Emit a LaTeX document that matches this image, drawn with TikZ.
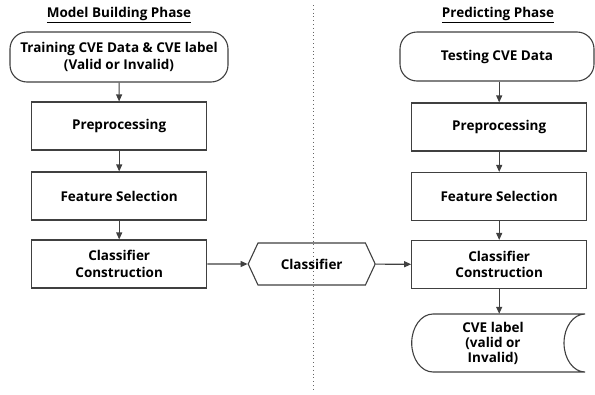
\documentclass[tikz,border=0pt]{standalone}
\usepackage{fontspec}
\setmainfont{Open Sans}
\usetikzlibrary{arrows.meta,shapes.symbols}
\definecolor{ln}{HTML}{404040}
\begin{document}
\begin{tikzpicture}[x=1pt,y=-1pt,
  every node/.style={font=\fontsize{13.5}{16.5}\selectfont\bfseries, text=black, align=center, inner sep=0pt},
  proc/.style={draw=ln, line width=1.1pt, minimum width=175pt, minimum height=48pt},
  term/.style={draw=ln, line width=1.1pt, rounded corners=17pt, minimum height=50pt},
  hexa/.style={draw=ln, line width=1.1pt, signal, signal to=east and west, signal pointer angle=130, minimum width=127pt, minimum height=42pt},
  outl/.style={draw=ln, line width=1.1pt},
  arr/.style={draw=ln, line width=1.1pt, -{Triangle[length=7pt,width=6pt]}},
  sep/.style={draw=ln!80, line width=1pt, dash pattern=on 1pt off 2.8pt}
]
\useasboundingbox (0,0) rectangle (595,394);
\fill[white] (0,0) rectangle (595,394);

\coordinate (dtop) at (313,5);
\coordinate (dbot) at (313,392);
\draw[sep] (dtop) -- (dbot);

\node (t1) at (119,15) {\underline{Model Building Phase}};
\node (t2) at (498,15) {\underline{Predicting Phase}};

\node[term, minimum width=218pt] (train) at (119,57) {Training CVE Data \& CVE label\\(Valid or Invalid)};
\node[proc] (pre1) at (119.2,126) {Preprocessing};
\node[proc] (fs1) at (119.2,196) {Feature Selection};
\node[proc] (cc1) at (119.2,264) {Classifier\\Construction};

\node[term, minimum width=194pt, minimum height=49pt] (test) at (497,56.5) {Testing CVE Data};
\node[proc] (pre2) at (499.2,127) {Preprocessing};
\node[proc] (fs2) at (499.2,196.5) {Feature Selection};
\node[proc] (cc2) at (499.2,264.5) {Classifier\\Construction};

\node[hexa] (hex) at (311.7,264) {Classifier};

\node[minimum height=58pt, minimum width=60pt, font=\fontsize{13.5}{15}\selectfont\bfseries] (out) at (493,343) {CVE label\\(valid or\\Invalid)};
\draw[outl] (433,314) -- (585,314)
  .. controls (573.4,314) and (564,327) .. (564,343)
  .. controls (564,359) and (573.4,372) .. (585,372)
  -- (433,372)
  .. controls (421.2,372) and (411.7,359) .. (411.7,343)
  .. controls (411.7,327) and (421.2,314) .. (433,314) -- cycle;

\draw[arr] (train) -- (pre1);
\draw[arr] (pre1) -- (fs1);
\draw[arr] (fs1) -- (cc1);
\draw[arr] (cc1) -- (hex);
\draw[arr] (hex) -- (cc2);
\draw[arr] (test.south -| pre2.north) -- (pre2);
\draw[arr] (pre2) -- (fs2);
\draw[arr] (fs2) -- (cc2);
\draw[arr] (cc2.south) -- (cc2.south |- out.north);
\end{tikzpicture}
\end{document}
